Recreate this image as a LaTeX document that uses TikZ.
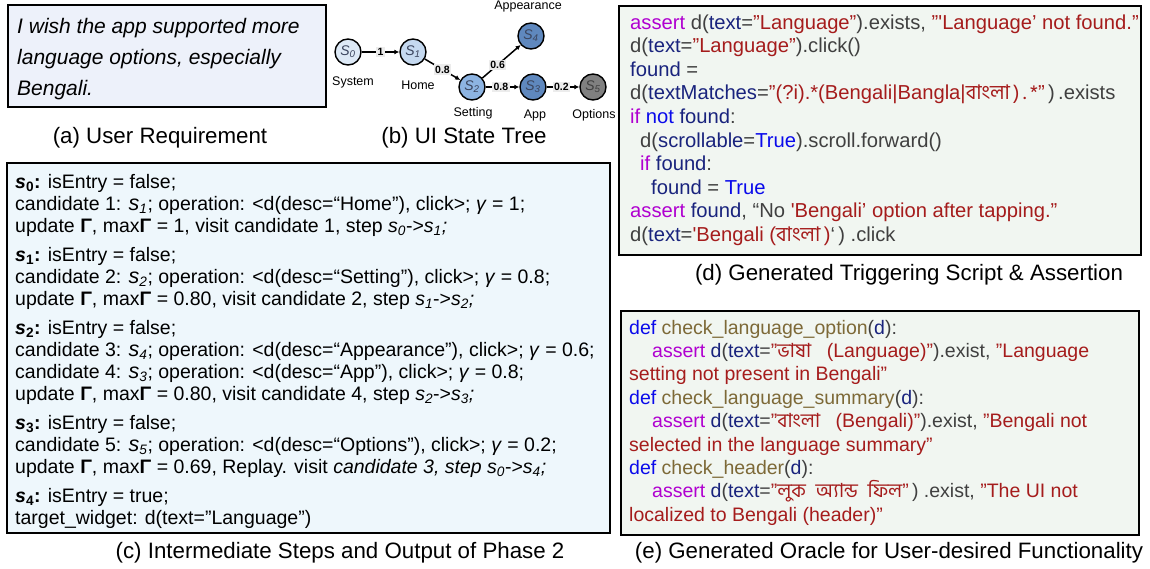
\documentclass[tikz,border=0pt]{standalone}
\usepackage{fontspec}
\setmainfont{Liberation Sans}
\newfontfamily\bn[Script=Bengali]{Hind Siliguri}
\usetikzlibrary{arrows.meta}
\definecolor{kwm}{RGB}{176,0,208}
\definecolor{cg}{RGB}{64,64,64}
\definecolor{cn}{RGB}{25,35,125}
\definecolor{cr}{RGB}{165,28,28}
\definecolor{cb}{RGB}{10,10,235}
\definecolor{co}{RGB}{125,105,55}
\definecolor{fa}{RGB}{237,241,250}
\definecolor{fc}{RGB}{238,247,252}
\definecolor{fd}{RGB}{241,246,241}
\definecolor{n0}{RGB}{221,233,246}
\definecolor{n1}{RGB}{197,217,240}
\definecolor{n2}{RGB}{141,180,226}
\definecolor{n3}{RGB}{95,136,190}
\definecolor{n5}{RGB}{128,128,128}
\definecolor{ntx}{RGB}{60,70,95}
\definecolor{elbg}{RGB}{236,236,236}
\newcommand\Sv[1]{\textit{s}\textsubscript{\textit{#1}}}
\newcommand\Sc[1]{{\fontsize{21.5}{22}\selectfont\textit{s}}\textsubscript{\textit{#1}}}
\newcommand\Sbx[1]{\textbf{\textit{s}\textsubscript{#1}:}}
\newcommand\Kw[1]{\textcolor{kwm}{#1}}
\newcommand\Nv[1]{\textcolor{cn}{#1}}
\newcommand\Rd[1]{\textcolor{cr}{#1}}
\newcommand\Bl[1]{\textcolor{cb}{#1}}
\newcommand\Ol[1]{\textcolor{co}{#1}}
\begin{document}
\begin{tikzpicture}[x=1pt,y=-1pt,
  box/.style={draw=black, line width=1.6pt, inner sep=0pt, anchor=north west},
  tl/.style={anchor=base west, inner sep=0pt, font=\fontsize{19.5}{22}\selectfont},
  cl/.style={anchor=base west, inner sep=0pt, text=cg, font=\fontsize{20.2}{22}\selectfont},
  el2/.style={anchor=base west, inner sep=0pt, text=cg, font=\fontsize{19.5}{22}\selectfont},
  capt/.style={anchor=base, inner sep=0pt, font=\fontsize{22.3}{24}\selectfont},
  st/.style={circle, draw=black, line width=1.4pt, minimum size=26pt, inner sep=0pt, text=ntx, font=\fontsize{14}{14}\selectfont\itshape},
  sl/.style={inner sep=0pt, font=\fontsize{12.5}{14}\selectfont},
  el/.style={fill=elbg, inner sep=1.5pt, font=\fontsize{10.5}{11}\selectfont\bfseries},
  arr/.style={line width=1.5pt, -{Latex[length=5pt,width=5pt]}}]
\useasboundingbox (0,0) rectangle (1150,568);

% (a)
\node[box, fill=fa, minimum width=318pt, minimum height=102pt] (boxa) at (7,4) {};
\node[tl, font=\fontsize{21}{22}\selectfont\itshape] (a1) at (17,33) {I wish the app supported more};
\node[tl, font=\fontsize{21}{22}\selectfont\itshape] (a2) at (17,64) {language options, especially};
\node[tl, font=\fontsize{21}{22}\selectfont\itshape] (a3) at (17,95) {Bengali.};
\node[capt] (capa) at (160,143) {(a) User Requirement};

% (b)
\node[st, fill=n0] (s0) at (348,52) {S\textsubscript{0}};
\node[st, fill=n1] (s1) at (413,52) {S\textsubscript{1}};
\node[st, fill=n2] (s2) at (472,87) {S\textsubscript{2}};
\node[st, fill=n3] (s4) at (531,36) {S\textsubscript{4}};
\node[st, fill=n3] (s3) at (533,87) {S\textsubscript{3}};
\node[st, fill=n5, text=black!75] (s5) at (593,87) {S\textsubscript{5}};
\node[sl] (l0) at (353,82) {System};
\node[sl] (l1) at (418,85) {Home};
\node[sl] (l2) at (473,113) {Setting};
\node[sl] (l3) at (535,115) {App};
\node[sl] (l5) at (594,115) {Options};
\node[sl] (l4) at (528,6) {Appearance};
\draw[arr] (s0) -- node[el] (e01) {1} (s1);
\draw[arr] (s1) -- node[el] (e12) {0.8} (s2);
\draw[arr] (s2) -- node[el, pos=0.4] (e24) {0.6} (s4);
\draw[arr] (s2) -- node[el, pos=0.45] (e23) {0.8} (s3);
\draw[arr] (s3) -- node[el, pos=0.45] (e35) {0.2} (s5);
\node[capt] (capb) at (464,143) {(b) UI State Tree};

% (d)
\node[box, fill=fd, minimum width=522pt, minimum height=249pt] (boxd) at (618,5) {};
\node[cl] (d1) at (630,29) {\Kw{assert} d(\Nv{text}=\Rd{"Language"}).exists, \Rd{"\textquotesingle Language’ not found."}};
\node[cl] (d2) at (630,52.6) {d(\Nv{text}=\Rd{"Language"}).click()};
\node[cl] (d3) at (630,76.2) {\Nv{found} =};
\node[cl] (d4) at (630,99.8) {d(\Nv{textMatches}=\Rd{"(?i).*(Bengali|Bangla|{\bn বাংলা\,)\,.\,*}"}\,)\,.exists};
\node[cl] (d5) at (630,123.4) {\Kw{if} \Bl{not} \Nv{found}:};
\node[cl] (d6) at (640,147) {d(\Nv{scrollable}=\Bl{True}).scroll.forward()};
\node[cl] (d7) at (640,170.6) {\Kw{if} \Nv{found}:};
\node[cl] (d8) at (651,194.2) {\Nv{found} = \Bl{True}};
\node[cl] (d9) at (630,217.8) {\Kw{assert} \Nv{found}, “No \Rd{\textquotesingle Bengali’ option after tapping.”}};
\node[cl] (d10) at (630,241.4) {d(\Nv{text}=\Rd{\textquotesingle Bengali ({\bn বাংলা}\,)}‘\,) .click};
\node[capt] (capd) at (909,280) {(d) Generated Triggering Script \& Assertion};

% (c)
\node[box, fill=fc, minimum width=603pt, minimum height=370pt] (boxc) at (6,162) {};
\node[tl] (c1) at (15,188) {\Sbx{0} isEntry = false;};
\node[tl] (c2) at (15,210) {candidate 1: \Sc{1}; operation: <d(desc=“Home"), click>; \textit{γ} = 1;};
\node[tl] (c3) at (15,232) {update \textbf{Γ}, max\textbf{Γ} = 1, visit candidate 1, step \Sv{0}->\Sv{1}\textit{;}};
\node[tl] (c4) at (15,261) {\Sbx{1} isEntry = false;};
\node[tl] (c5) at (15,283) {candidate 2: \Sc{2}; operation: <d(desc=“Setting"), click>; \textit{γ} = 0.8;};
\node[tl] (c6) at (15,305) {update \textbf{Γ}, max\textbf{Γ} = 0.80, visit candidate 2, step \Sv{1}->\Sv{2}\textit{;}};
\node[tl] (c7) at (15,334) {\Sbx{2} isEntry = false;};
\node[tl] (c8) at (15,356) {candidate 3: \Sc{4}; operation: <d(desc=“Appearance"), click>; \textit{γ} = 0.6;};
\node[tl] (c9) at (15,378) {candidate 4: \Sc{3}; operation: <d(desc=“App"), click>; \textit{γ} = 0.8;};
\node[tl] (c10) at (15,400) {update \textbf{Γ}, max\textbf{Γ} = 0.80, visit candidate 4, step \Sv{2}->\Sv{3}\textit{;}};
\node[tl] (c11) at (15,429) {\Sbx{3} isEntry = false;};
\node[tl] (c12) at (15,451) {candidate 5: \Sc{5}; operation: <d(desc=“Options"), click>; \textit{γ} = 0.2;};
\node[tl] (c13) at (15,473) {update \textbf{Γ}, max\textbf{Γ} = 0.69, Replay. visit \textit{candidate 3, step} \Sv{0}->\Sv{4}\textit{;}};
\node[tl] (c14) at (15,502) {\Sbx{4} isEntry = true;};
\node[tl] (c15) at (15,524) {target\_widget: d(text=”Language")};
\node[capt] (capc) at (340,558) {(c) Intermediate Steps and Output of Phase 2};

% (e)
\node[box, fill=fd, minimum width=518pt, minimum height=224pt] (boxe) at (620,310) {};
\node[el2] (e1) at (629,334) {\Bl{def} \Ol{check\_language\_option}(\Nv{d}):};
\node[el2] (e2) at (652,357.4) {\Kw{assert} \Nv{d}(\Nv{text}=\Rd{"{\bn ভাষা}\hspace{0.8em}(Language)"}).exist, \Rd{"Language}};
\node[el2] (e3) at (629,380.8) {\Rd{setting not present in Bengali"}};
\node[el2] (e4) at (629,404.2) {\Bl{def} \Ol{check\_language\_summary}(\Nv{d}):};
\node[el2] (e5) at (652,427.6) {\Kw{assert} \Nv{d}(\Nv{text}=\Rd{"{\bn বাংলা}\hspace{0.8em}(Bengali)"}).exist, \Rd{"Bengali not}};
\node[el2] (e6) at (629,451) {\Rd{selected in the language summary"}};
\node[el2] (e7) at (629,474.4) {\Bl{def} \Ol{check\_header}(\Nv{d}):};
\node[el2] (e8) at (652,497.8) {\Kw{assert} \Nv{d}(\Nv{text}=\Rd{"{\bn লুক\hspace{0.5em}অ্যান্ড\hspace{0.5em}ফিল}"}\,) .exist, \Rd{"The UI not}};
\node[el2] (e9) at (629,521.2) {\Rd{localized to Bengali (header)"}};
\node[capt] (cape) at (889,558) {(e) Generated Oracle for User-desired Functionality};
\end{tikzpicture}
\end{document}
